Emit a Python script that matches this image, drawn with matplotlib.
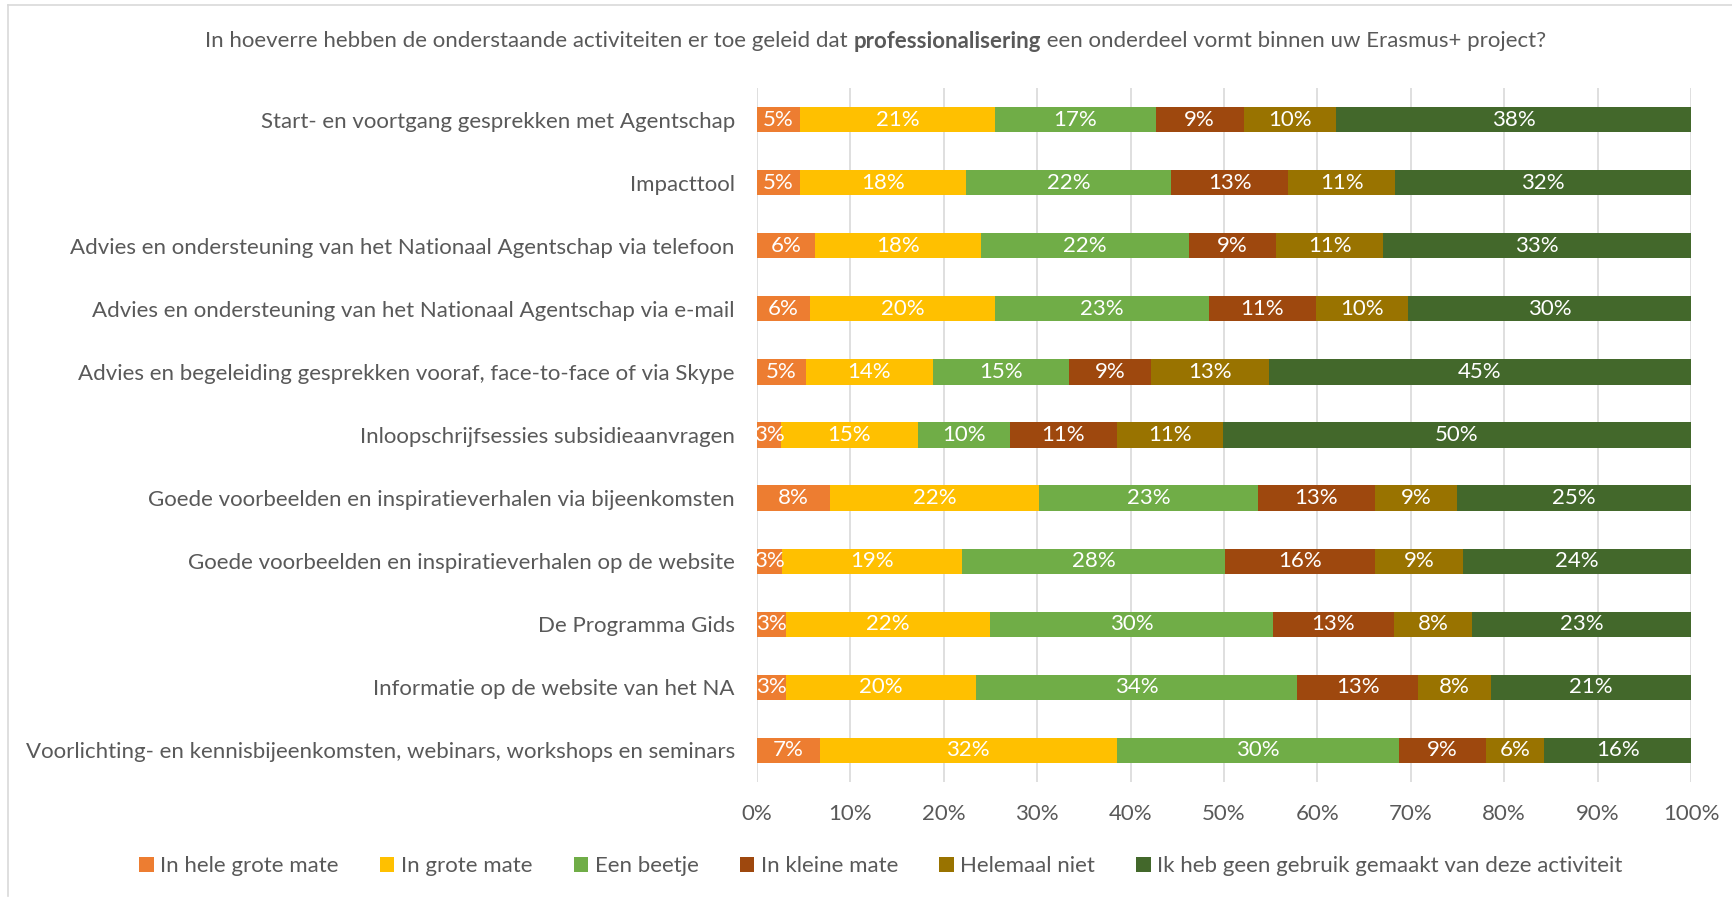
import matplotlib
matplotlib.use("Agg")
import matplotlib.pyplot as plt
from matplotlib.patches import Patch
from matplotlib.lines import Line2D
import numpy as np

plt.rcParams['font.family'] = ['Lato', 'DejaVu Sans']

categories = [
    "Start- en voortgang gesprekken met Agentschap",
    "Impacttool",
    "Advies en ondersteuning van het Nationaal Agentschap via telefoon",
    "Advies en ondersteuning van het Nationaal Agentschap via e-mail",
    "Advies en begeleiding gesprekken vooraf, face-to-face of via Skype",
    "Inloopschrijfsessies subsidieaanvragen",
    "Goede voorbeelden en inspiratieverhalen via bijeenkomsten",
    "Goede voorbeelden en inspiratieverhalen op de website",
    "De Programma Gids",
    "Informatie op de website van het NA",
    "Voorlichting- en kennisbijeenkomsten, webinars, workshops en seminars",
]

series_names = [
    "In hele grote mate",
    "In grote mate",
    "Een beetje",
    "In kleine mate",
    "Helemaal niet",
    "Ik heb geen gebruik gemaakt van deze activiteit",
]

in_hele_grote_mate = [4.6, 4.6, 6.2, 5.7, 5.2, 2.6, 7.8, 2.7, 3.1, 3.1, 6.7]
in_grote_mate      = [20.9, 17.8, 17.8, 19.8, 13.6, 14.6, 22.4, 19.3, 21.9, 20.4, 31.8]
een_beetje         = [17.2, 21.9, 22.2, 22.9, 14.6, 9.9, 23.4, 28.1, 30.2, 34.3, 30.2]
in_kleine_mate     = [9.4, 12.6, 9.4, 11.4, 8.8, 11.4, 12.6, 16.1, 13.0, 13.0, 9.4]
helemaal_niet      = [9.9, 11.4, 11.4, 9.9, 12.6, 11.4, 8.8, 9.4, 8.4, 7.8, 6.2]
geen_gebruik       = [38.0, 31.7, 33.0, 30.3, 45.2, 50.1, 25.0, 24.4, 23.4, 21.4, 15.7]

colors = ["#ED7D31", "#FFC000", "#70AD47", "#9E480E", "#997300", "#43682B"]

x_ticks = [0, 10, 20, 30, 40, 50, 60, 70, 80, 90, 100]
x_tick_labels = ["0%", "10%", "20%", "30%", "40%", "50%", "60%", "70%", "80%", "90%", "100%"]

title_parts = [
    ("In hoeverre hebben de onderstaande activiteiten er toe geleid dat ", "normal"),
    ("professionalisering", "bold"),
    (" een onderdeel vormt binnen uw Erasmus+ project?", "normal"),
]

TXT = "#595959"
GRID = "#D9D9D9"
FS = 16

W, H = 1733, 900
fig = plt.figure(figsize=(W / 100, H / 100), dpi=100)
ax = fig.add_axes([757 / W, 1 - 782 / H, (1691 - 757) / W, (782 - 88) / H])

series = [in_hele_grote_mate, in_grote_mate, een_beetje, in_kleine_mate, helemaal_niet, geen_gebruik]
y = np.arange(len(categories))
left = np.zeros(len(categories))
for vals, col, name in zip(series, colors, series_names):
    vals = np.array(vals)
    ax.barh(y, vals, left=left, height=0.4, color=col, label=name, zorder=3)
    for yi, (l, v) in enumerate(zip(left, vals)):
        ax.text(l + v / 2, yi, f"{v:.0f}%", ha="center", va="center",
                color="white", fontsize=FS, clip_on=True, zorder=4)
    left = left + vals

ax.set_xlim(0, 100)
ax.set_ylim(len(categories) - 0.5, -0.5)
ax.set_yticks(y)
ax.set_yticklabels(categories, fontsize=FS, color=TXT)
ax.set_xticks(x_ticks)
ax.set_xticklabels(x_tick_labels, fontsize=FS, color=TXT)
ax.tick_params(axis="y", length=0, pad=16)
ax.tick_params(axis="x", length=0, pad=16)
for s in ax.spines.values():
    s.set_visible(False)
ax.set_axisbelow(True)
ax.grid(axis="x", color=GRID, linewidth=1.2, zorder=0)
ax.grid(axis="y", visible=False)

# Title with bold middle part
fig.canvas.draw()
renderer = fig.canvas.get_renderer()
texts = []
widths = []
for s, w in title_parts:
    t = fig.text(0, 1 - 41 / H, s, fontsize=FS, color=TXT, fontweight=w,
                 ha="left", va="center")
    bb = t.get_window_extent(renderer)
    texts.append(t)
    widths.append(bb.width)
total = sum(widths)
cx = 876
x0 = cx - total / 2
for t, wd in zip(texts, widths):
    t.set_x(x0 / W)
    x0 += wd

handles = [Patch(facecolor=c, edgecolor="none") for c in colors]
fig.legend(handles, series_names, loc="center", bbox_to_anchor=(881 / W, 1 - 866 / H),
           ncol=6, frameon=False, fontsize=FS, labelcolor=TXT,
           handlelength=0.65, handleheight=0.65, handletextpad=0.3, columnspacing=1.85)

# chart area border
fig.add_artist(Line2D([8 / W, 8 / W], [0.005, 0.995], color=GRID, linewidth=1.2))
fig.add_artist(Line2D([8 / W, 1.0], [0.995, 0.995], color=GRID, linewidth=1.2))

fig.savefig("out.png", dpi=100)
